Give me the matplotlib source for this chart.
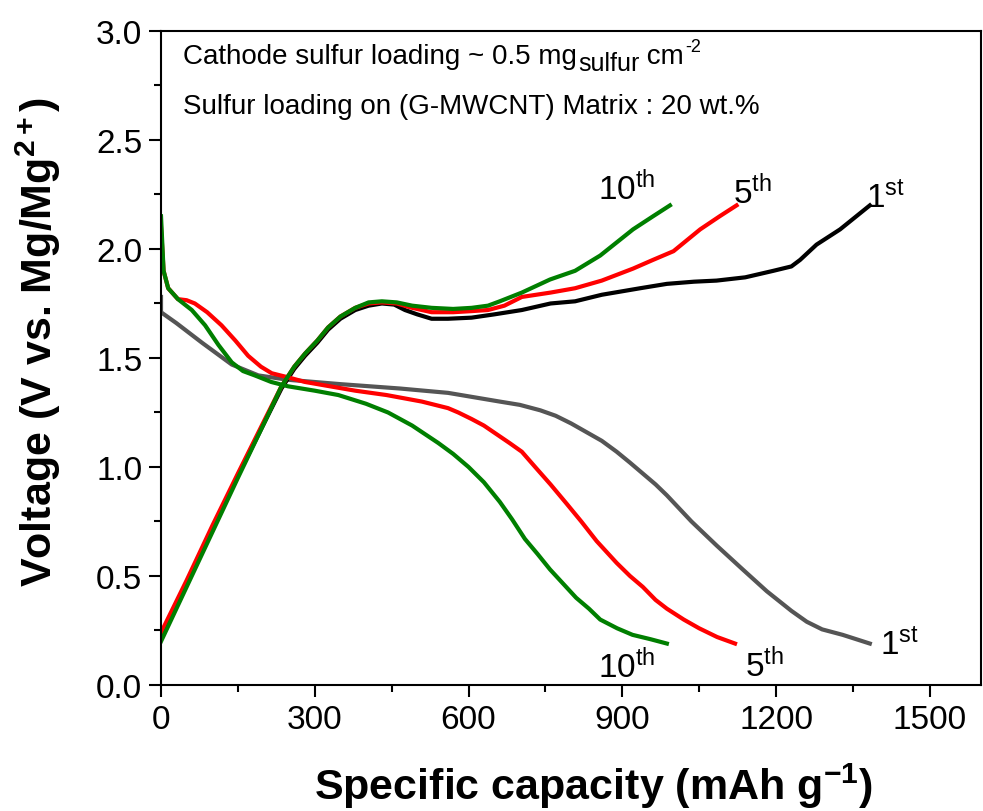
import matplotlib
matplotlib.use('Agg')
import matplotlib.pyplot as plt
from matplotlib.ticker import MultipleLocator

plt.rcParams['font.family'] = ['Liberation Sans', 'DejaVu Sans']
plt.rcParams['mathtext.fontset'] = 'custom'
plt.rcParams['mathtext.rm'] = 'Liberation Sans'
plt.rcParams['mathtext.it'] = 'Liberation Sans:italic'
plt.rcParams['mathtext.bf'] = 'Liberation Sans:bold'

# 1st cycle
dis1_c = [0, 0, 30, 80, 138, 190, 248, 350, 466, 560, 661, 700, 740, 770, 800,
          830, 860, 889, 915, 940, 965, 987, 1035, 1084, 1135, 1182, 1230, 1260,
          1290, 1330, 1383]
dis1_v = [1.78, 1.71, 1.66, 1.57, 1.47, 1.42, 1.40, 1.38, 1.36, 1.34, 1.30, 1.285,
          1.26, 1.235, 1.20, 1.16, 1.12, 1.07, 1.02, 0.97, 0.92, 0.87, 0.75, 0.64,
          0.53, 0.43, 0.34, 0.29, 0.255, 0.23, 0.19]
chg1_c = [0, 50, 100, 150, 203, 235, 260, 281, 305, 326, 350, 379, 405, 431, 455,
          476, 500, 528, 560, 606, 650, 704, 760, 808, 860, 935, 987, 1040, 1084,
          1140, 1195, 1230, 1247, 1279, 1325, 1383]
chg1_v = [0.21, 0.46, 0.71, 0.96, 1.21, 1.36, 1.45, 1.51, 1.57, 1.63, 1.68, 1.72,
          1.74, 1.75, 1.745, 1.72, 1.70, 1.68, 1.68, 1.685, 1.70, 1.72, 1.75, 1.76,
          1.79, 1.82, 1.84, 1.85, 1.855, 1.87, 1.90, 1.92, 1.95, 2.02, 2.09, 2.20]

# 5th cycle
dis5_c = [0, 5, 14, 33, 50, 66, 90, 118, 145, 170, 195, 216, 250, 281, 330, 379,
          440, 509, 560, 580, 606, 630, 655, 680, 704, 730, 760, 792, 820, 850, 889,
          915, 940, 965, 987, 1020, 1050, 1085, 1120]
dis5_v = [2.10, 1.90, 1.82, 1.77, 1.765, 1.75, 1.71, 1.65, 1.58, 1.51, 1.46, 1.43,
          1.41, 1.39, 1.37, 1.35, 1.33, 1.30, 1.27, 1.25, 1.22, 1.19, 1.15, 1.11,
          1.07, 1.00, 0.92, 0.83, 0.75, 0.66, 0.56, 0.50, 0.45, 0.39, 0.35, 0.30,
          0.26, 0.22, 0.19]
chg5_c = [0, 50, 100, 150, 203, 235, 260, 281, 305, 326, 350, 379, 405, 431, 460,
          490, 528, 570, 606, 638, 670, 704, 760, 808, 860, 921, 960, 1000, 1052,
          1090, 1123]
chg5_v = [0.24, 0.48, 0.73, 0.97, 1.22, 1.37, 1.46, 1.52, 1.58, 1.64, 1.69, 1.73,
          1.75, 1.755, 1.75, 1.73, 1.71, 1.71, 1.715, 1.72, 1.74, 1.78, 1.80, 1.82,
          1.855, 1.91, 1.95, 1.99, 2.09, 2.15, 2.20]

# 10th cycle
dis10_c = [0, 5, 14, 33, 60, 86, 112, 138, 160, 183, 215, 248, 300, 346, 400, 443,
           490, 541, 570, 600, 630, 661, 685, 710, 735, 759, 810, 835, 857, 890,
           920, 955, 987]
dis10_v = [2.15, 1.90, 1.82, 1.77, 1.72, 1.65, 1.56, 1.48, 1.44, 1.42, 1.39, 1.37,
           1.35, 1.33, 1.29, 1.25, 1.19, 1.11, 1.06, 1.00, 0.93, 0.84, 0.76, 0.67,
           0.60, 0.53, 0.40, 0.35, 0.30, 0.26, 0.23, 0.21, 0.19]
chg10_c = [0, 50, 100, 150, 203, 235, 260, 281, 305, 326, 350, 379, 405, 431, 460,
           490, 528, 570, 606, 638, 661, 704, 759, 808, 857, 921, 960, 993]
chg10_v = [0.20, 0.45, 0.70, 0.95, 1.21, 1.37, 1.46, 1.52, 1.58, 1.64, 1.69, 1.73,
           1.755, 1.76, 1.755, 1.74, 1.73, 1.725, 1.73, 1.74, 1.76, 1.80, 1.86, 1.90,
           1.97, 2.09, 2.15, 2.20]

fig = plt.figure(figsize=(9.83, 8.12), dpi=100)
ax = fig.add_axes([0.1638, 0.1552, 0.8342, 0.8054])

lw = 3.0
ax.plot(dis1_c, dis1_v, color='#555555', lw=lw)
ax.plot(chg1_c, chg1_v, color='black', lw=lw)
ax.plot(dis5_c, dis5_v, color='#ff0000', lw=lw)
ax.plot(chg5_c, chg5_v, color='#ff0000', lw=lw)
ax.plot(dis10_c, dis10_v, color='#007f00', lw=lw)
ax.plot(chg10_c, chg10_v, color='#007f00', lw=lw)

ax.set_xlim(0, 1600)
ax.set_ylim(0, 3.0)
ax.xaxis.set_major_locator(MultipleLocator(300))
ax.xaxis.set_minor_locator(MultipleLocator(150))
ax.yaxis.set_major_locator(MultipleLocator(0.5))
ax.yaxis.set_minor_locator(MultipleLocator(0.25))
ax.yaxis.set_major_formatter(plt.FormatStrFormatter('%.1f'))
ax.tick_params(which='both', direction='out', width=1.5, labelsize=24,
               top=False, right=False, pad=5)
ax.tick_params(which='major', length=8.5)
ax.tick_params(which='minor', length=5)
for s in ax.spines.values():
    s.set_linewidth(1.5)

ax.set_xlabel(r'Specific capacity (mAh g$^{\mathbf{-1}}$)', fontsize=31,
              fontweight='bold')
ax.set_ylabel(r'Voltage (V vs. Mg/Mg$^{\mathbf{2+}}$)', fontsize=31,
              fontweight='bold')
ax.xaxis.set_label_coords(0.527, -0.116)
ax.yaxis.set_label_coords(-0.12, 0.526)

# annotation, first line built from pieces so the subscript stays large
t1 = ax.text(43, 2.826, 'Cathode sulfur loading ~ 0.5 mg', fontsize=20,
             ha='left', va='bottom')
t2 = ax.annotate('sulfur', xy=(1, 0), xycoords=t1, xytext=(1, -6),
                 textcoords='offset pixels', fontsize=18, ha='left', va='bottom')
t3 = ax.annotate(' cm', xy=(1, 0), xycoords=t2, xytext=(0, 6),
                 textcoords='offset pixels', fontsize=20, ha='left', va='bottom')
ax.annotate('-2', xy=(1, 1), xycoords=t3, xytext=(1, -12),
            textcoords='offset pixels', fontsize=13, ha='left', va='bottom')
ax.text(43, 2.624, 'Sulfur loading on (G-MWCNT) Matrix : 20 wt.%',
        fontsize=20, ha='left', va='baseline')

lab = dict(fontsize=24, ha='left', va='baseline')
ax.text(853, 2.23, r'10$^{\rm th}$', **lab)
ax.text(1116, 2.21, r'5$^{\rm th}$', **lab)
ax.text(1376, 2.19, r'1$^{\rm st}$', **lab)
ax.text(853, 0.037, r'10$^{\rm th}$', **lab)
ax.text(1140, 0.04, r'5$^{\rm th}$', **lab)
ax.text(1403, 0.14, r'1$^{\rm st}$', **lab)

fig.savefig('out.png', dpi=100)
